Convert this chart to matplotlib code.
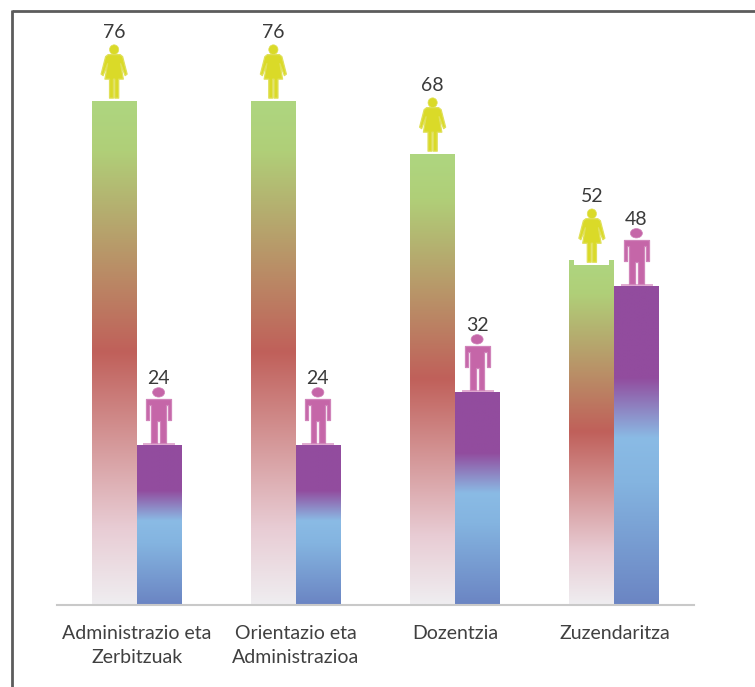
"""Women / men share by staff group, bars with gradient fill and pictogram toppers."""

import matplotlib
matplotlib.use("Agg")
import matplotlib.pyplot as plt
import numpy as np
from matplotlib.colors import LinearSegmentedColormap
from matplotlib.lines import Line2D
from matplotlib.patches import Ellipse, Polygon, Rectangle

plt.rcParams["font.family"] = ["Lato", "DejaVu Sans"]

categories = ["Administrazio eta\nZerbitzuak", "Orientazio eta\nAdministrazioa", "Dozentzia", "Zuzendaritza"]
women = [76, 76, 68, 52]
men = [24, 24, 32, 48]

W, H = 755, 687
BASE_Y = 604.5
PX_PER_UNIT = 6.63
PX_PER_CAT = 159.25
BAR_W = 45 / PX_PER_CAT

# gradients run from the top of the bar (0) to the baseline (1)
cmap_women = LinearSegmentedColormap.from_list(
    "women", [(0, "#aed680"), (0.1, "#b0cf78"), (0.5, "#c0605a"), (0.85, "#e8ccd4"), (1, "#efedf0")])
cmap_men = LinearSegmentedColormap.from_list(
    "men", [(0, "#924c9e"), (0.29, "#924c9e"), (0.48, "#8abbe5"), (0.62, "#84b4e0"), (1, "#6b85c3")])

WOMAN_BODY = [(-6, 46), (6, 46), (8.5, 44), (13, 26.5), (11, 25), (6.5, 37), (9.2, 21.5), (4.6, 21.5), (4.6, 2.5),
              (0.7, 2.5), (0.7, 21.5), (-0.7, 21.5), (-0.7, 2.5), (-4.6, 2.5), (-4.6, 21.5), (-9.2, 21.5), (-6.5, 37),
              (-11, 25), (-13, 26.5), (-8.5, 44)]
MAN_BODY = [(-12.5, 46.5), (12.5, 46.5), (12.5, 25), (9.5, 25), (9.5, 40), (7.2, 40), (7.2, 2.5), (1.5, 2.5), (1.5, 24),
            (-1.5, 24), (-1.5, 2.5), (-7.2, 2.5), (-7.2, 40), (-9.5, 40), (-9.5, 25), (-12.5, 25)]


def gradient_bar(ax, x, value, cmap):
    bar = ax.bar(x, value, BAR_W, color="none", linewidth=0)[0]
    grad = np.linspace(0, 1, 256).reshape(-1, 1)
    im = ax.imshow(grad, cmap=cmap, vmin=0, vmax=1, aspect="auto", interpolation="bilinear",
                   extent=[x - BAR_W / 2, x + BAR_W / 2, 0, value], zorder=2)
    im.set_clip_path(bar)


def pictogram(ax, x, value, body, color, soft, head, label, label_dy, drop=0):
    # offsets are in pixels, measured from the bar centre and the bar top
    def to_data(dx, dy):
        return x + dx / PX_PER_CAT, value + (dy - drop) / PX_PER_UNIT

    ax.add_patch(Polygon([to_data(*p) for p in body], closed=True, facecolor=color, edgecolor=soft,
                         linewidth=0.9, joinstyle="round", zorder=4))
    ax.add_patch(Ellipse(to_data(0, head[0]), 2 * head[1] / PX_PER_CAT, 2 * head[2] / PX_PER_UNIT,
                         facecolor=color, edgecolor=soft, linewidth=0.5, zorder=4))
    cx, cy = to_data(0, label_dy)
    ax.text(cx, cy, str(label), ha="center", va="center", fontsize=14, color="#3a3a3a", zorder=5)


fig = plt.figure(figsize=(W / 100, H / 100), dpi=100, facecolor="white")
ax = fig.add_axes([57 / W, 1 - BASE_Y / H, (694 - 57) / W, BASE_Y / H])

x = np.arange(len(categories))
for i in x:
    xw, xm = i + 0.5 - BAR_W / 2, i + 0.5 + BAR_W / 2
    gradient_bar(ax, xw, women[i], cmap_women)
    gradient_bar(ax, xm, men[i], cmap_men)

    # the last women's bar has a notch cut in its top where the figure stands
    drop = 5 if i == 3 else 0
    if drop:
        ax.add_patch(Rectangle((xw - 17.5 / PX_PER_CAT, women[i] - drop / PX_PER_UNIT), 35 / PX_PER_CAT,
                               (drop + 1) / PX_PER_UNIT, facecolor="white", edgecolor="none", zorder=3))
    pictogram(ax, xw, women[i], WOMAN_BODY, "#dada28", "#e0e05a", (51, 4.6, 4.8), women[i], 68, drop)

    ax.plot([xm - 16 / PX_PER_CAT, xm + 16 / PX_PER_CAT], [men[i] + 1.5 / PX_PER_UNIT] * 2,
            color="#dc9cc8", lw=1.2, solid_capstyle="butt", zorder=3)
    pictogram(ax, xm - 0.5 / PX_PER_CAT, men[i], MAN_BODY, "#c566a8", "#d084ba", (53, 6, 4.7), men[i], 67)

ax.set_xlim(0, len(categories))
ax.set_ylim(0, BASE_Y / PX_PER_UNIT)
ax.set_xticks(x + 0.5)
ax.set_xticklabels(categories, fontsize=14, color="#404040", linespacing=1.45)
ax.tick_params(axis="x", length=0, pad=15)
ax.set_yticks([])
for side in ("top", "left", "right"):
    ax.spines[side].set_visible(False)
ax.spines["bottom"].set_color("#c9c9c9")
ax.spines["bottom"].set_linewidth(1.5)
ax.patch.set_alpha(0)

# outer frame: only the top and left edges fall inside the canvas
fig.add_artist(Line2D([11.5 / W, 1], [1 - 10.5 / H] * 2, color="#5c5c5c", lw=2.0, solid_capstyle="butt"))
fig.add_artist(Line2D([11.5 / W] * 2, [1 - 10 / H, 0], color="#5c5c5c", lw=2.0, solid_capstyle="butt"))

fig.savefig("out.png", dpi=100)
